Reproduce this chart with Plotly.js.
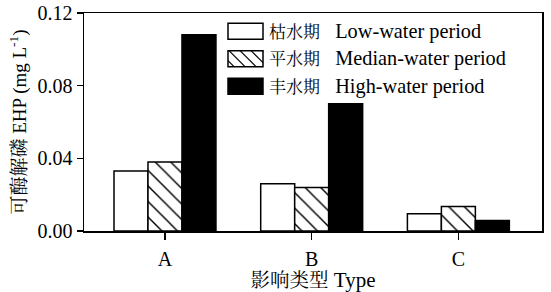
<!DOCTYPE html>
<html><head><meta charset="utf-8">
<script src="https://cdn.plot.ly/plotly-3.0.1.min.js"></script>
<style>html,body{margin:0;padding:0;background:#fff;}</style>
</head><body><div id="chart" style="width:551px;height:292px;"></div>
<script>
const categories = ["A", "B", "C"];
const seriesCN = ["枯水期", "平水期", "丰水期"];
const seriesEN = ["Low-water period", "Median-water period", "High-water period"];
const lowWater = [0.033, 0.026, 0.0095];
const medianWater = [0.038, 0.024, 0.0135];
const highWater = [0.108, 0.070, 0.0058];
const yTicks = [0, 0.04, 0.08, 0.12];

const FONT = "Liberation Serif, Times New Roman, Noto Serif CJK SC, Noto Sans CJK SC, serif";
const W = 551, H = 292, L = 84, R = 9, T = 13, B = 61;
const pw = W - L - R, ph = H - T - B;
const px = x => (x - L) / pw;
const py = y => (H - B - y) / ph;

const names = seriesCN.map((c, i) => c + " " + seriesEN[i]);
const traces = [
  {type: "bar", x: categories, name: names[0], y: lowWater, marker: {color: "#fff", line: {color: "#000", width: 1.5}}},
  {type: "bar", x: categories, name: names[1], y: medianWater, marker: {color: "#fff", line: {color: "#000", width: 1.5},
     pattern: {shape: "\\", fgcolor: "#000", bgcolor: "#fff", size: 11, solidity: 0.13}}},
  {type: "bar", x: categories, name: names[2], y: highWater, marker: {color: "#000", line: {color: "#000", width: 1.5}}}
];

// custom legend (decoration)
const shapes = [], annotations = [];
const rowsPx = [31.3, 58.7, 86.3];
const bx0 = 228, bx1 = 263, bh = 16;
const fills = ["#fff", "#fff", "#000"];
rowsPx.forEach((cy, i) => {
  const top = cy - bh / 2, bot = cy + bh / 2;
  shapes.push({type: "rect", xref: "paper", yref: "paper", x0: px(bx0), x1: px(bx1), y0: py(bot), y1: py(top),
    fillcolor: fills[i], line: {color: "#000", width: 1.5}});
  if (i === 1) {
    for (let s = -bh + 6; s < bx1 - bx0; s += 11) {
      let xa = bx0 + s, ya = top, xb = bx0 + s + bh, yb = bot;
      if (xa < bx0) { ya = top + (bx0 - xa); xa = bx0; }
      if (xb > bx1) { yb = bot - (xb - bx1); xb = bx1; }
      shapes.push({type: "line", xref: "paper", yref: "paper", x0: px(xa), y0: py(ya), x1: px(xb), y1: py(yb),
        line: {color: "#000", width: 1.2}});
    }
  }
  annotations.push({xref: "paper", yref: "paper", x: px(267), y: py(cy), xanchor: "left", yanchor: "middle",
    text: '<span style="font-size:17px">' + seriesCN[i] + '</span>\u00a0\u00a0 ' + seriesEN[i],
    showarrow: false, font: {family: FONT, size: 20.3, color: "#000"}});
});

const layout = {
  width: W, height: H,
  margin: {l: L, r: R, t: T, b: B, pad: 0},
  paper_bgcolor: "#fff", plot_bgcolor: "#fff",
  barmode: "group", bargap: 0.305, bargroupgap: 0,
  showlegend: false,
  font: {family: FONT, color: "#000"},
  xaxis: {
    range: [-0.552, 2.57], showgrid: false, zeroline: false,
    showline: true, linecolor: "#000", linewidth: 1.5, mirror: true,
    ticks: "outside", ticklen: 7, tickwidth: 1.5, tickcolor: "#000", ticklabelstandoff: 2,
    tickfont: {family: FONT, size: 20, color: "#000"},
    title: {text: '<span style="font-size:19.5px">影响类型</span> Type', font: {family: FONT, size: 21, color: "#000"}, standoff: 9}
  },
  yaxis: {
    range: [0, 0.12], tickvals: yTicks, tickformat: ".2f", showgrid: false, zeroline: false,
    showline: true, linecolor: "#000", linewidth: 1.5, mirror: true,
    ticks: "outside", ticklen: 6, tickwidth: 1.5, tickcolor: "#000",
    tickfont: {family: FONT, size: 20, color: "#000"},
    title: {text: '<span style="font-size:19px">可酶解磷</span> EHP (mg L<sup>-1</sup>)', font: {family: FONT, size: 19, color: "#000"}, standoff: 6}
  },
  shapes: shapes, annotations: annotations
};
Plotly.newPlot("chart", traces, layout, {displayModeBar: false, staticPlot: true});
</script></body></html>
